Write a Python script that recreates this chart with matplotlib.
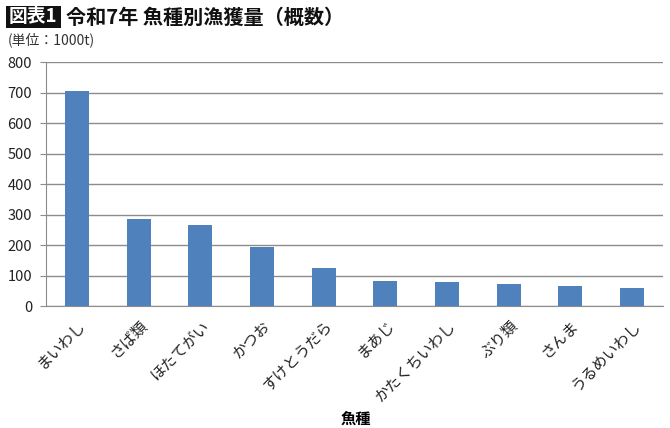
import matplotlib
matplotlib.use("Agg")
import matplotlib.pyplot as plt
from matplotlib.patches import Rectangle

plt.rcParams['font.family'] = ['Noto Sans CJK JP', 'DejaVu Sans']

categories = ["まいわし", "さば類", "ほたてがい", "かつお", "すけとうだら",
              "まあじ", "かたくちいわし", "ぶり類", "さんま", "うるめいわし"]
values = [706, 284, 265, 194, 125, 83, 79, 71, 67, 59]
yticks = [0, 100, 200, 300, 400, 500, 600, 700, 800]

fig = plt.figure(figsize=(6.7, 4.28), dpi=100)
ax = fig.add_axes([46/670, 1-306/428, (663-46)/670, (306-62)/428])

x = range(len(categories))
ax.bar(x, values, width=0.39, color="#4F81BD", zorder=3)
ax.set_xlim(-0.5, len(categories)-0.5)
ax.set_ylim(0, 800)
ax.set_yticks(yticks)
ax.set_yticklabels([str(t) for t in yticks], fontsize=10.5, color="#222222")
ax.grid(axis='y', color="#8c8c8c", linewidth=1.0, zorder=0)
ax.set_xticks(list(x))
ax.set_xticklabels(categories, rotation=45, ha='right', rotation_mode='anchor',
                   fontsize=11, color="#222222")
ax.tick_params(axis='x', length=0, pad=8)
ax.tick_params(axis='y', length=4, color="#8c8c8c", pad=6)
for s in ['top', 'right']:
    ax.spines[s].set_visible(False)
ax.spines['left'].set_color("#8c8c8c")
ax.spines['bottom'].set_color("#8c8c8c")
ax.set_xlabel("魚種", fontsize=11, fontweight='bold', labelpad=6)
ax.xaxis.set_label_coords(0.502, -0.43)

# Title
fig.patches.append(Rectangle((6/670, 1-28/428), 55/670, 22/428, transform=fig.transFigure,
                             facecolor="#111111", edgecolor='none'))
fig.text(9/670, 1-17/428, "図表1", color="white", fontsize=13.5, fontweight='bold',
         va='center', ha='left')
fig.text(66/670, 1-17/428, "令和7年 魚種別漁獲量（概数）", color="#111111", fontsize=14.5,
         fontweight='bold', va='center', ha='left')
fig.text(8/670, 1-40/428, "(単位：1000t)", color="#333333", fontsize=10,
         va='center', ha='left')

fig.savefig("out.png", dpi=100)
